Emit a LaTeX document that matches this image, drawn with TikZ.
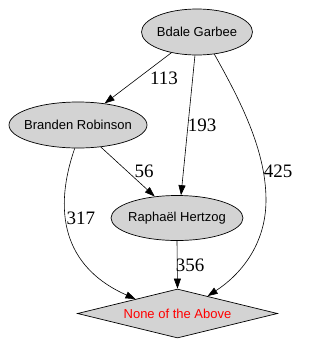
\documentclass[tikz,border=0pt]{standalone}
\usepackage{fontspec}
\setmainfont{Liberation Serif}
\setsansfont{Liberation Sans}
\usetikzlibrary{shapes.geometric,arrows.meta}
\definecolor{gvgray}{HTML}{D3D3D3}
\tikzset{
  person/.style={ellipse, draw=black, fill=gvgray, line width=0.7pt, inner sep=0pt,
    font=\sffamily\fontsize{13}{15}\selectfont},
  answer/.style={diamond, draw=black, fill=gvgray, line width=0.7pt, inner sep=0pt,
    minimum width=200pt, minimum height=49pt, text=red,
    font=\sffamily\fontsize{13}{15}\selectfont},
  edge/.style={draw=black, line width=0.6pt, -{Triangle[length=10pt,width=7pt]}},
  elabel/.style={font=\fontsize{19}{21}\selectfont, inner sep=0pt}
}
\begin{document}
\begin{tikzpicture}[x=1pt,y=-1pt]
\useasboundingbox (0,0) rectangle (319,346);
\node[person, minimum width=111pt, minimum height=46pt] (b) at (197,32) {\makebox[0pt]{Bdale Garbee}};
\node[person, minimum width=138pt, minimum height=46pt] (r) at (78,125) {\makebox[0pt]{Branden Robinson}};
\node[person, minimum width=132pt, minimum height=45pt] (h) at (177,218) {\makebox[0pt]{Raphaël Hertzog}};
\node[answer] (n) at (177.5,313.5) {\makebox[0pt]{None of the Above}};

\draw[edge] (b.-141) -- (r.39);
\draw[edge] (b.-95) -- (h.80);
\draw[edge] (b.-52) .. controls (240,100) and (266,150) .. (266,200)
  .. controls (266,245) and (240,275) .. (n.30);
\draw[edge] (r.-44) -- (h.136);
\draw[edge] (r.-98) .. controls (50,220) and (70,270) .. (n.161);
\draw[edge] (h.south) -- (n.north);

\node[elabel] (l113) at (164,78) {113};
\node[elabel] (l193) at (202,125) {193};
\node[elabel] (l425) at (278,171) {425};
\node[elabel] (l56) at (144,171) {56};
\node[elabel] (l317) at (81,218) {317};
\node[elabel] (l356) at (190,265) {356};
\end{tikzpicture}
\end{document}
